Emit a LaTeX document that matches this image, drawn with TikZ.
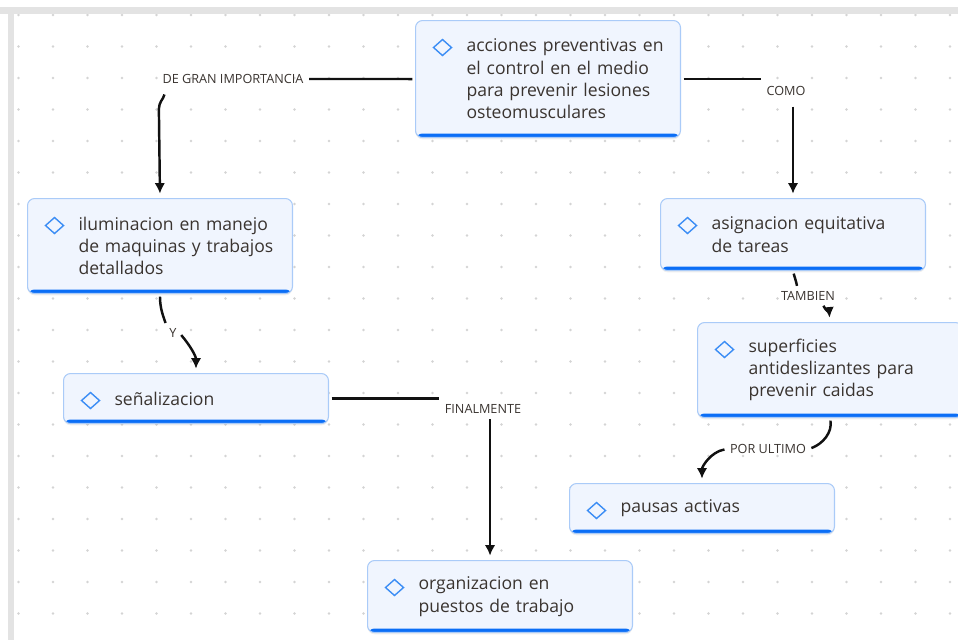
\documentclass[tikz,border=0pt]{standalone}
\usepackage{fontspec}
\setmainfont{Open Sans}
\usetikzlibrary{arrows.meta,shadows}
\definecolor{borde}{HTML}{AACBF8}
\definecolor{fondo}{HTML}{F0F5FE}
\definecolor{azul}{HTML}{0B6EF6}
\definecolor{rombo}{HTML}{3D8EF5}
\definecolor{tinta}{HTML}{3A3430}
\definecolor{punto}{HTML}{D4D4D4}
\definecolor{trazo}{HTML}{111111}
\begin{document}
\begin{tikzpicture}[x=0.02cm, y=-0.02cm, >={Latex[length=6pt,width=6pt]}, line width=1.4pt, draw=trazo,
    caja/.style={draw=borde, line width=0.6pt, fill=fondo, rounded corners=4pt, anchor=north west,
        minimum width=5.3cm, text width=5.3cm, inner sep=0pt, text=tinta,
        font=\fontsize{10}{12.7}\selectfont,
        execute at begin node={\leftskip=1.02cm\relax},
        drop shadow={shadow xshift=0pt, shadow yshift=-1pt, opacity=0.12},
        path picture={
            \fill[azul] (path picture bounding box.south west) rectangle ([yshift=0.08cm]path picture bounding box.south east);
            \draw[rombo, line width=0.8pt, sharp corners] ([shift={(0.36cm,-0.54cm)}]path picture bounding box.north west)
                -- ++(0.18cm,0.16cm) -- ++(0.18cm,-0.16cm) -- ++(-0.18cm,-0.16cm) -- cycle;}},
    etiqueta/.style={inner sep=1pt, text=tinta, font=\fontsize{7.2}{8}\selectfont},
    linea/.style={shorten <=1.5pt, shorten >=1.5pt},
    flecha/.style={->, shorten <=1.5pt, shorten >=2.5pt}]
    \useasboundingbox (0,0) rectangle (958,640);
    % fondo con puntos
    \fill[white] (0,0) rectangle (958,640);
    \foreach \i in {0,...,27}
        \foreach \j in {0,...,19}
            \fill[punto] (18.5+34.5*\i, 15+31.5*\j) circle[radius=0.026cm];
    \fill[gray!22] (0,7) rectangle (958,13.5);
    \fill[gray!22] (7.5,13.5) rectangle (13.5,640);

    % cajas
    \node[caja, minimum height=2.34cm] (acciones) at (415,20) {acciones preventivas en\\el control en el medio\\para prevenir lesiones\\osteomusculares};
    \node[caja, minimum height=1.9cm] (ilum) at (27,198) {iluminacion en manejo\\de maquinas y trabajos\\detallados};
    \node[caja, minimum height=1cm] (senal) at (63,373) {señalizacion};
    \node[caja, minimum height=1.44cm] (asig) at (660,198) {asignacion equitativa\\de tareas};
    \node[caja, minimum height=1.9cm] (sup) at (697,322) {superficies\\antideslizantes para\\prevenir caidas};
    \node[caja, minimum height=1cm] (pausas) at (569,483) {pausas activas};
    \node[caja, minimum height=1.44cm] (org) at (367,560) {organizacion en\\puestos de trabajo};

    % etiquetas
    \node[etiqueta] (gran) at (233,79) {DE GRAN IMPORTANCIA};
    \node[etiqueta] (como) at (786,91) {COMO};
    \node[etiqueta] (y) at (173,333) {Y};
    \node[etiqueta] (fin) at (483,409) {FINALMENTE};
    \node[etiqueta] (tambien) at (808,296) {TAMBIEN};
    \node[etiqueta] (por) at (768,449) {POR ULTIMO};

    % conectores
    \draw[linea] (acciones.west) -- (gran.east);
    \draw[flecha] ([shift={(3pt,-3pt)}]gran.south west) to[out=-100,in=90] ++(-6,17) -- (ilum.north);
    \draw[linea] (acciones.east) -- (acciones.east -| como.west);
    \draw[flecha] ([yshift=-3pt]como.south -| asig.north) -- (asig.north);
    \draw[linea] (ilum.south) to[out=-90,in=110] (y.north west);
    \draw[flecha] (y.east) to[out=-50,in=90] (senal.north);
    \draw[linea] (senal.east) -- (senal.east -| fin.west);
    \draw[flecha] ([xshift=4pt]fin.south) -- ([xshift=4pt]fin.south |- org.north);
    \draw[linea] (asig.south) to[out=-75,in=100] ([xshift=-6pt]tambien.north);
    \draw[flecha] ([xshift=8pt]tambien.south) to[out=-60,in=95] (sup.north);
    \draw[linea] (sup.south) to[out=-80,in=20] (por.east);
    \draw[flecha] (por.west) to[out=190,in=90] (pausas.north);
\end{tikzpicture}
\end{document}
